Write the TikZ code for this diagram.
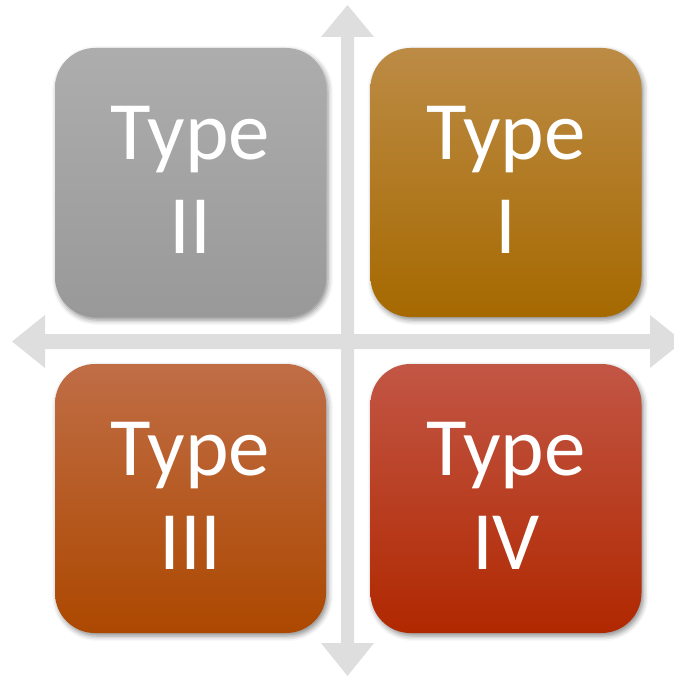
\documentclass[tikz,border=0pt]{standalone}
\usepackage{fontspec}
\setmainfont{Carlito}
\usetikzlibrary{shadows.blur}
\definecolor{axisgray}{HTML}{DEDEDE}
\definecolor{twotop}{HTML}{ADADAD}
\definecolor{twobot}{HTML}{999999}
\definecolor{onetop}{HTML}{BC8B45}
\definecolor{onebot}{HTML}{A66900}
\definecolor{threetop}{HTML}{C06D46}
\definecolor{threebot}{HTML}{AC4800}
\definecolor{fourtop}{HTML}{C25645}
\definecolor{fourbot}{HTML}{B02800}
\tikzset{
  quadbox/.style={minimum width=271pt, minimum height=269pt, rounded corners=40pt,
    inner sep=0pt,
    blur shadow={shadow xshift=2pt, shadow yshift=-3pt, shadow blur radius=5pt, shadow opacity=45}},
  quadlabel/.style={inner sep=0pt, align=center, text=white,
    font=\fontsize{83}{94}\selectfont},
  axisfill/.style={fill=axisgray, draw=none}
}
\begin{document}
\begin{tikzpicture}[x=1pt, y=-1pt]
  \useasboundingbox (0,0) rectangle (673,677);
  % axis ends
  \coordinate (top) at (347.5,5);
  \coordinate (bottom) at (347.5,676);
  \coordinate (left) at (12,341.5);
  \coordinate (right) at (683,341.5);
  % vertical double arrow
  \fill[axisfill] (top) -- (374,37) -- (354,37) -- (354,643) -- (374,643) -- (bottom)
    -- (321,643) -- (341,643) -- (341,37) -- (321,37) -- cycle;
  % horizontal double arrow
  \fill[axisfill] (left) -- (45,315) -- (45,334) -- (650,334) -- (650,315) -- (right)
    -- (650,368) -- (650,349) -- (45,349) -- (45,368) -- cycle;
  % the four quadrants
  \node[quadbox, top color=twotop, bottom color=twobot] (t2) at (190.5,182.5) {};
  \node[quadbox, top color=onetop, bottom color=onebot] (t1) at (506,182.5) {};
  \node[quadbox, top color=threetop, bottom color=threebot] (t3) at (190.5,498.5) {};
  \node[quadbox, top color=fourtop, bottom color=fourbot] (t4) at (506,498.5) {};
  % their labels
  \node[quadlabel] (l2) at ([yshift=3pt]t2.center) {Type\\II};
  \node[quadlabel] (l1) at ([yshift=3pt]t1.center) {Type\\I};
  \node[quadlabel] (l3) at ([yshift=3pt]t3.center) {Type\\III};
  \node[quadlabel] (l4) at ([yshift=3pt]t4.center) {Type\\IV};
\end{tikzpicture}
\end{document}
